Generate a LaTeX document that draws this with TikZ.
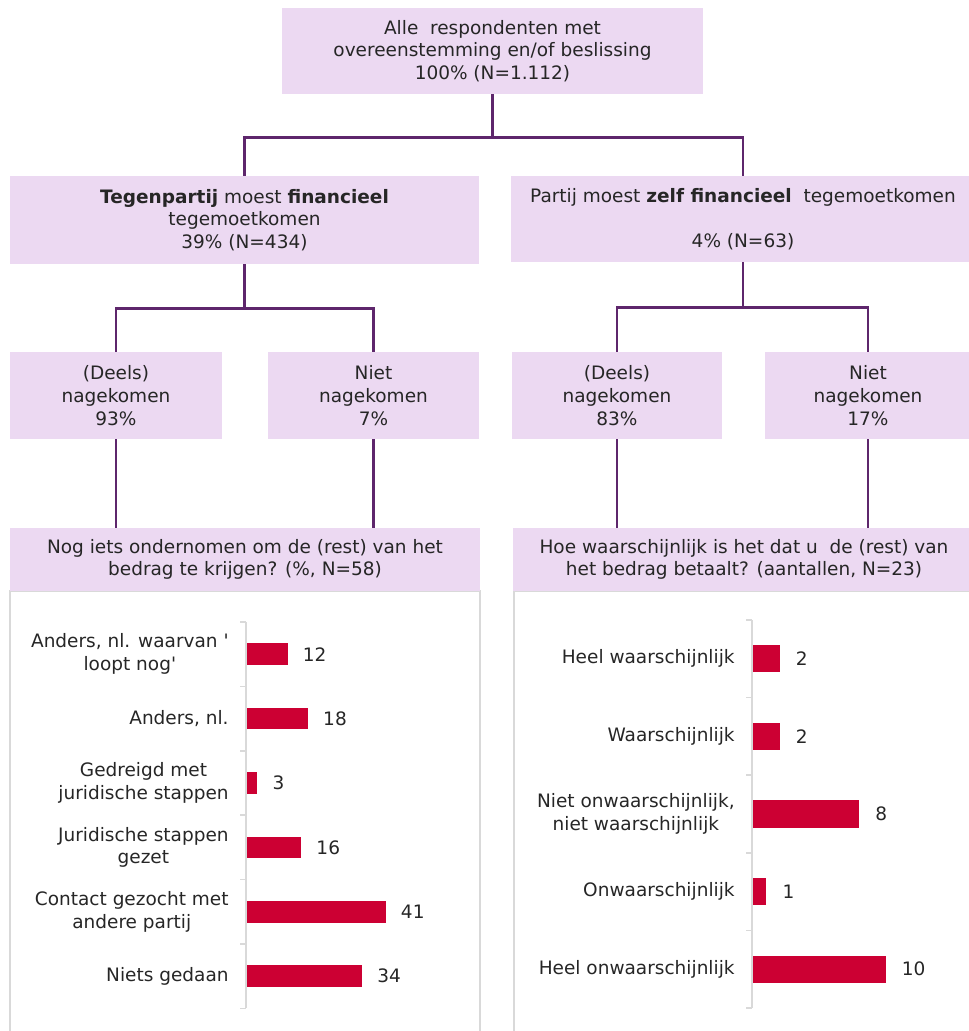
\documentclass[tikz,border=0pt]{standalone}
\usepackage{fontspec}
\setmainfont{DejaVu Sans}
\usepackage{tikz}
\definecolor{lavender}{RGB}{236,217,242}
\definecolor{plum}{RGB}{94,38,108}
\definecolor{crimson}{RGB}{204,0,51}
\definecolor{framegray}{RGB}{217,217,217}
\definecolor{textgray}{RGB}{38,38,38}

\begin{document}
\begin{tikzpicture}[
    x=0.5pt, y=-0.5pt,
    every node/.style={font=\fontsize{9.25}{11.35}\selectfont, text=textgray},
    box/.style={fill=lavender, align=center, inner sep=0pt},
    link/.style={draw=plum, line width=1.3pt},
    frame/.style={draw=framegray, line width=1pt},
    axis/.style={draw=framegray, line width=0.8pt},
    bar/.style={fill=crimson},
    cat/.style={anchor=east, align=center, inner sep=0pt},
    val/.style={anchor=west, inner sep=0pt}
]
    \useasboundingbox (0,0) rectangle (968,1031);

    % Chart frames (question boxes sit on top)
    \draw[frame] (10,591) rectangle (480,1045);
    \draw[frame] (514,591) rectangle (985,1045);

    % Tree boxes
    \node[box, minimum width=210.5pt, minimum height=43pt] (all) at (492.5,51) {Alle\ \ respondenten met\\overeenstemming en/of beslissing\\100\% (N=1.112)};
    \node[box, minimum width=234.5pt, minimum height=44pt] (tp) at (244.5,220) {\textbf{Tegenpartij} moest \textbf{financieel}\\tegemoetkomen\\39\% (N=434)};
    \node[box, minimum width=232pt, minimum height=43pt] (zp) at (743,219) {Partij moest \textbf{zelf financieel}\ \ tegemoetkomen\\\mbox{}\\4\% (N=63)};
    \node[box, minimum width=106pt, minimum height=43.5pt] (d1) at (116,395.5) {(Deels)\\nagekomen\\93\%};
    \node[box, minimum width=105.5pt, minimum height=43.5pt] (n1) at (373.5,395.5) {Niet\\nagekomen\\7\%};
    \node[box, minimum width=105pt, minimum height=43.5pt] (d2) at (617,395.5) {(Deels)\\nagekomen\\83\%};
    \node[box, minimum width=103pt, minimum height=43.5pt] (n2) at (868,395.5) {Niet\\nagekomen\\17\%};
    \node[box, minimum width=235pt, minimum height=31.5pt] (q1) at (245,559.5) {Nog iets ondernomen om de (rest) van het\\bedrag te krijgen? (\%, N=58)};
    \node[box, minimum width=231pt, minimum height=31.5pt] (q2) at (744,559.5) {Hoe waarschijnlijk is het dat u\ \ de (rest) van\\het bedrag betaalt? (aantallen, N=23)};

    % Connectors
    \draw[link] (all.south) -- ++(0,43) -| (tp.north);
    \draw[link] (all.south) -- ++(0,43) -| (zp.north);
    \draw[link] (tp.south) -- ++(0,44) -| (d1.north);
    \draw[link] (tp.south) -- ++(0,44) -| (n1.north);
    \draw[link] (zp.south) -- ++(0,45) -| (d2.north);
    \draw[link] (zp.south) -- ++(0,45) -| (n2.north);
    \foreach \a/\b in {d1/q1, n1/q1, d2/q2, n2/q2}
        \draw[link] (\a.south) -- (\a.south |- \b.north);

    % Left chart (%)
    \draw[axis] (246,622) -- (246,1008);
    \foreach \t in {0,...,6}
        \draw[axis] (240,{622+64.4*\t}) -- (246,{622+64.4*\t});
    \foreach \lab/\v [count=\i] in {{Anders, nl. waarvan \textquotesingle\\loopt nog\textquotesingle}/12, {Anders, nl.}/18, {Gedreigd met\\juridische stappen}/3, {Juridische stappen\\gezet}/16, {Contact gezocht met\\andere partij}/41, {Niets gedaan}/34} {
        \pgfmathsetmacro\yc{589.8+64.4*\i}
        \node[cat] (lc\i) at (229,\yc) {\lab};
        \fill[bar] (247,\yc-10.85) rectangle ++(3.38*\v,21.7);
        \node[val] (lv\i) at (262+3.38*\v,\yc) {\v};
    }

    % Right chart (aantallen)
    \draw[axis] (752,620) -- (752,1008);
    \foreach \t in {0,...,5}
        \draw[axis] (746,{620+77.6*\t}) -- (752,{620+77.6*\t});
    \foreach \lab/\v [count=\i] in {{Heel waarschijnlijk}/2, {Waarschijnlijk}/2, {Niet onwaarschijnlijk,\\niet waarschijnlijk}/8, {Onwaarschijnlijk}/1, {Heel onwaarschijnlijk}/10} {
        \pgfmathsetmacro\yc{581.2+77.6*\i}
        \node[cat] (rc\i) at (735,\yc) {\lab};
        \fill[bar] (753,\yc-13.65) rectangle ++(13.25*\v,27.3);
        \node[val] (rv\i) at (769+13.25*\v,\yc) {\v};
    }
\end{tikzpicture}
\end{document}
